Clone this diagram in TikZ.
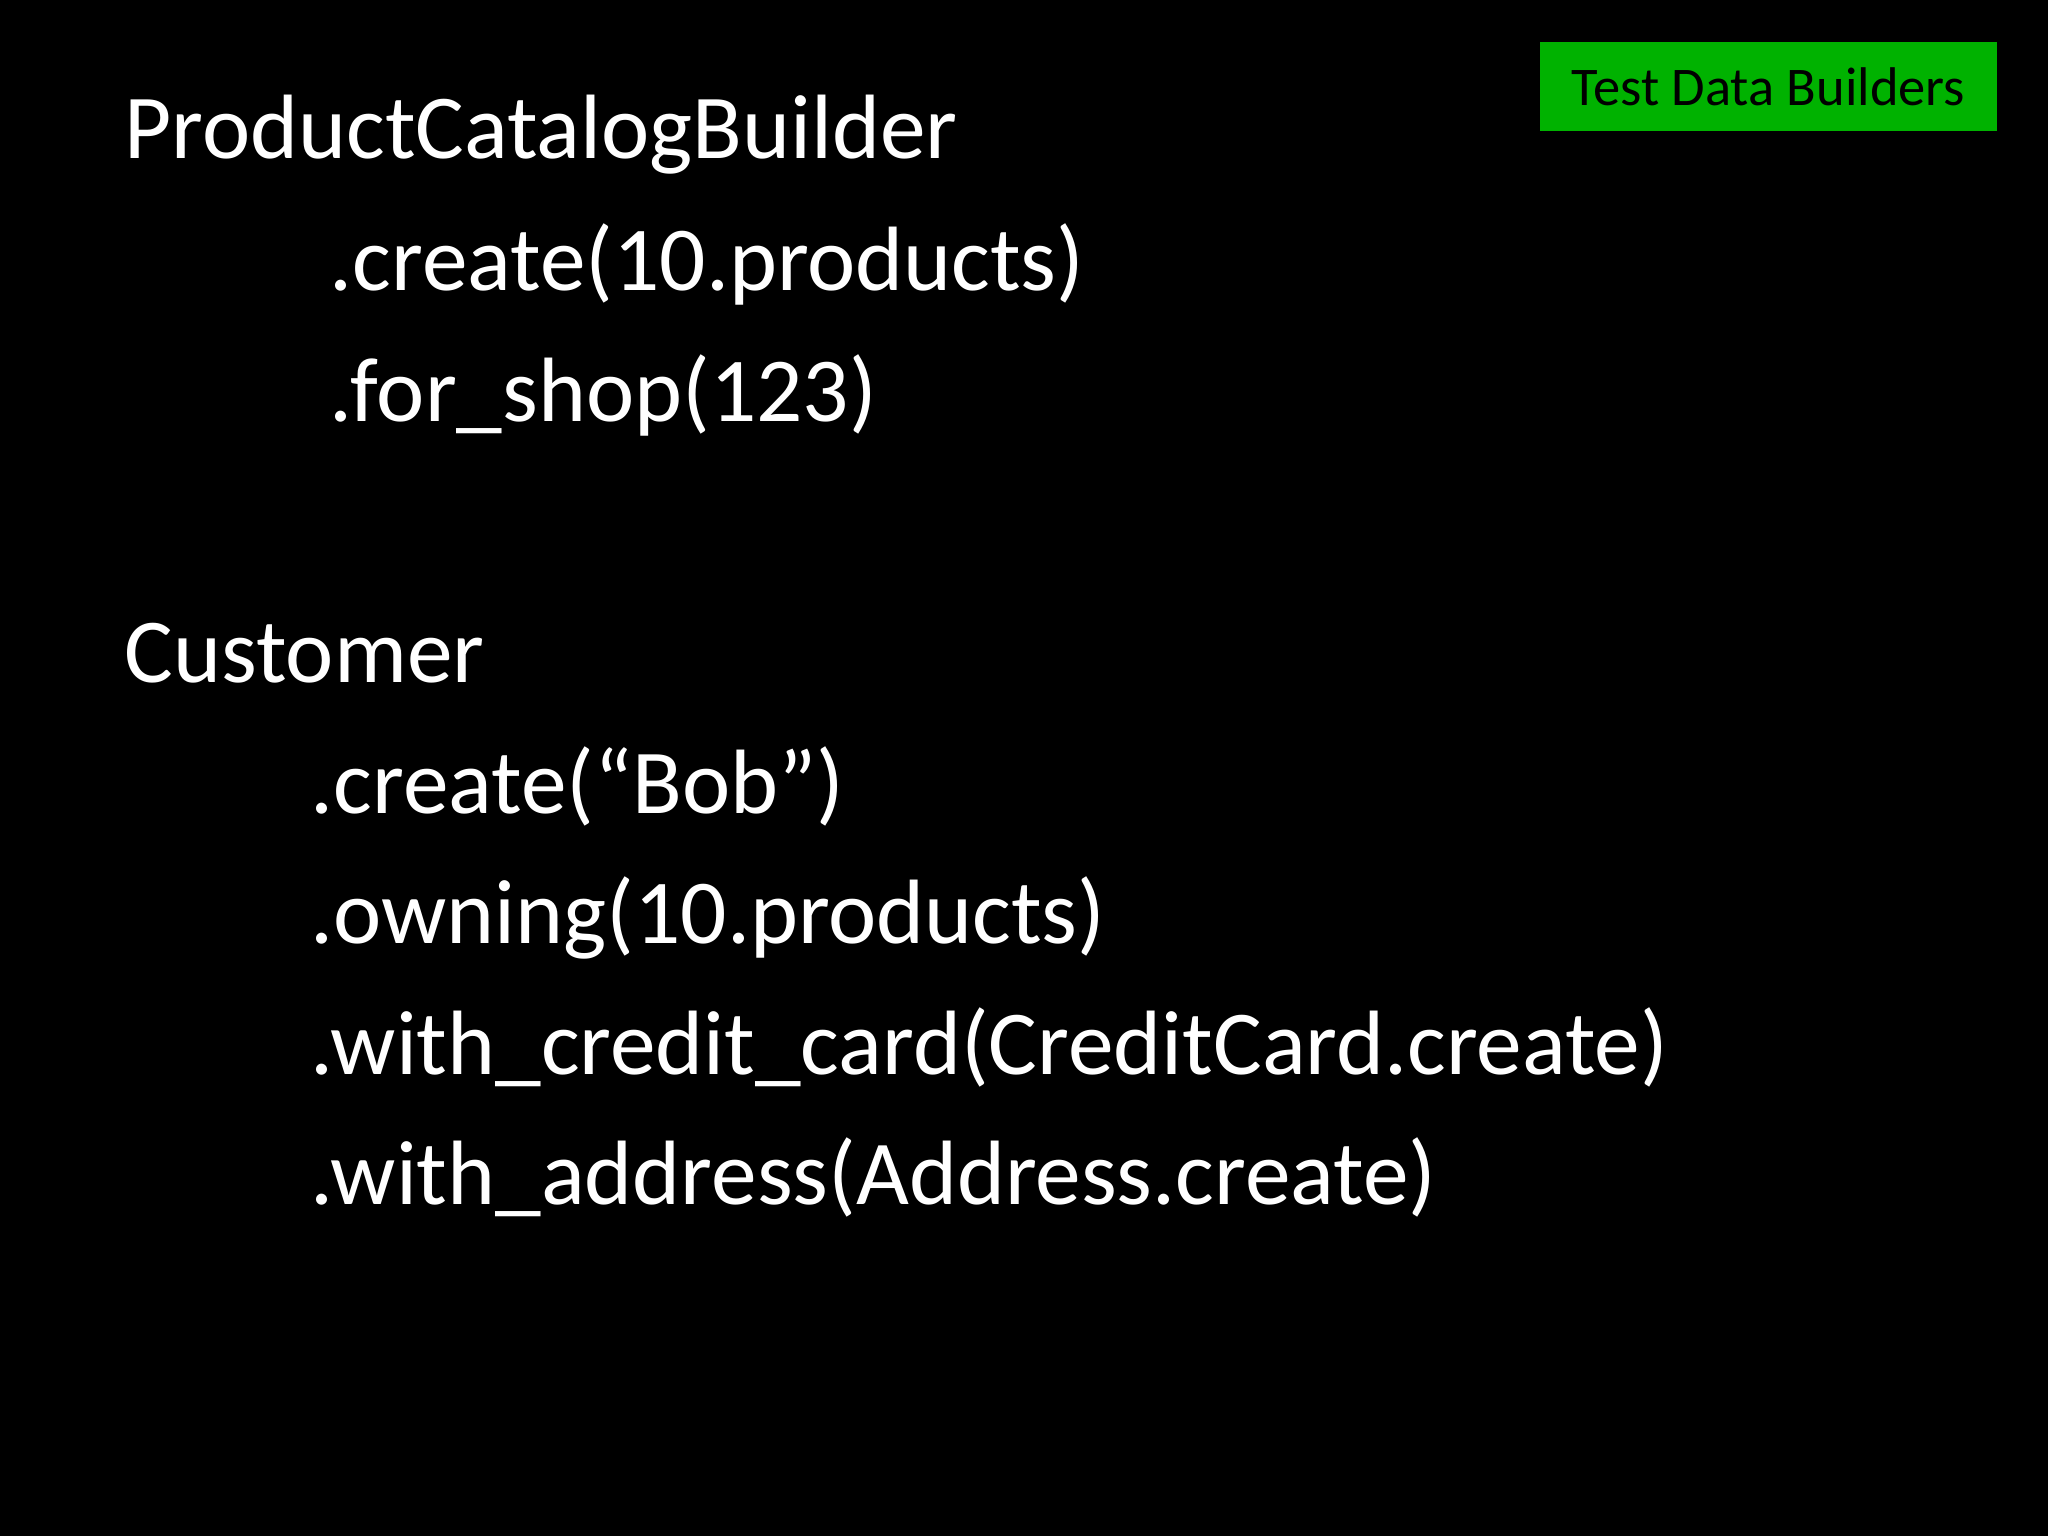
\documentclass[tikz,border=0pt]{standalone}
\usepackage{fontspec}
\setmainfont{Carlito}
\usepackage{tikz}
\definecolor{slide-green}{RGB}{0,178,0}
\begin{document}
\begin{tikzpicture}[
    every node/.style={inner sep=0pt},
    codeline/.style={anchor=base west, text=white, font=\fontsize{26}{30}\selectfont}
]

% Slide background
\fill[black] (0,0) rectangle (20.48,15.36);
\useasboundingbox (0,0) rectangle (20.48,15.36);

% Tag in the corner
\node[fill=slide-green, minimum width=4.57cm, minimum height=0.89cm,
      font=\fontsize{15.5}{18}\selectfont, text=black]
    (tag) at (17.685,14.495) {Test Data Builders};

% Product catalog builder
\node[codeline] (catalog) at (1.24,13.77) {ProductCatalogBuilder};
\node[codeline] (catcreate) at (3.29,12.45) {.create(10.products)};
\node[codeline] (catshop) at (3.29,11.14) {.for\_shop(123)};

% Customer builder
\node[codeline] (customer) at (1.24,8.53) {Customer};
\node[codeline] (custcreate) at (3.10,7.22) {.create(“Bob”)};
\node[codeline] (custowning) at (3.10,5.92) {.owning(10.products)};
\node[codeline] (custcard) at (3.10,4.61) {.with\_credit\_card(CreditCard.create)};
\node[codeline] (custaddress) at (3.10,3.31) {.with\_address(Address.create)};

\end{tikzpicture}
\end{document}
